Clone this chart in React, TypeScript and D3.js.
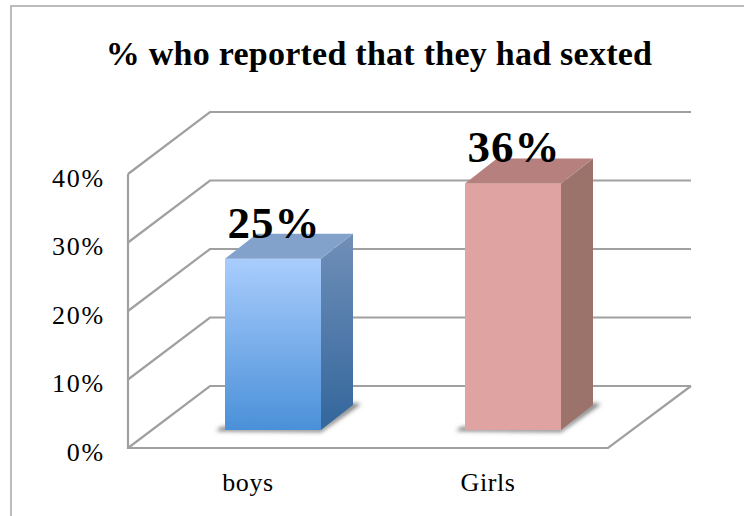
import * as React from 'react';
import * as d3 from 'd3';

const categories = ['boys', 'Girls'];
const values = [25, 36];
const valueLabels = ['25%', '36%'];
const ticks = [0, 10, 20, 30, 40];

const titleText = '% who reported that they had sexted';
const serif = '"Liberation Serif", "DejaVu Serif", serif';
const gridColor = '#a0a0a0';

// projected box of the 3D plot
const plot = { left: 128, right: 608, bottom: 448, top: 174, depthX: 82, depthY: 62, farRight: 691 };
const barDepth = { x: 32, y: 25, baseY: 430, shiftX: 25, width: 96 };

const App = () => {
    const node = React.useRef<SVGSVGElement | null>(null);

    React.useEffect(() => {
        const svg = d3.select(node.current);
        svg.selectAll('*').remove();

        const xScale = d3.scaleBand<string>().domain(categories).range([plot.left, plot.right]);
        const yScale = d3.scaleLinear().domain([0, 40]).range([plot.bottom, plot.top]);
        const barHeight = (v: number) => yScale(0) - yScale(v);

        const defs = svg.append('defs');
        const grad = (id: string, stops: string[]) => {
            const g = defs.append('linearGradient').attr('id', id)
                .attr('x1', 0).attr('y1', 0).attr('x2', 0).attr('y2', 1);
            stops.forEach((c, i) => g.append('stop')
                .attr('offset', i / (stops.length - 1)).attr('stop-color', c));
        };
        grad('boysFront', ['#a9cdfd', '#4a90d8']);
        grad('boysSide', ['#708fb8', '#33669c']);
        grad('girlsFront', ['#dfa3a2', '#dfa3a2']);
        grad('girlsSide', ['#9b736b', '#9b736b']);
        defs.append('filter').attr('id', 'soft')
            .attr('x', '-20%').attr('y', '-50%').attr('width', '140%').attr('height', '200%')
            .append('feGaussianBlur').attr('stdDeviation', 2);

        const faces = [
            { front: 'url(#boysFront)', side: 'url(#boysSide)', top: '#82a2cc' },
            { front: 'url(#girlsFront)', side: 'url(#girlsSide)', top: '#b5807d' },
        ];

        // outer frame
        svg.append('path')
            .attr('d', 'M11,516V6H744')
            .attr('fill', 'none').attr('stroke', '#a6a6a6').attr('stroke-width', 1.5);

        // gridlines on the walls
        const wall = d3.line();
        const grid = svg.append('g').attr('fill', 'none').attr('stroke', gridColor).attr('stroke-width', 2.2);
        ticks.forEach(t => {
            const y = yScale(t);
            grid.append('path').attr('d', wall([
                [plot.left, y],
                [plot.left + plot.depthX, y - plot.depthY],
                [plot.farRight, y - plot.depthY],
            ]));
        });
        grid.append('path').attr('d', wall([
            [plot.left, plot.top],
            [plot.left, plot.bottom],
            [plot.right, plot.bottom],
            [plot.farRight, plot.bottom - plot.depthY],
        ]));

        // bars
        categories.forEach((c, i) => {
            const x0 = (xScale(c) as number) + xScale.bandwidth() / 2 + barDepth.shiftX - barDepth.width / 2;
            const x1 = x0 + barDepth.width;
            const yb = barDepth.baseY;
            const yt = yb - barHeight(values[i]);
            const g = svg.append('g');

            g.append('path')
                .attr('d', wall([
                    [x0 - 9, yb + 1],
                    [x1, yb + 2],
                    [x1 + barDepth.x + 8, yb - barDepth.y - 1],
                    [x1 + barDepth.x, yb - barDepth.y - 2],
                    [x1, yb - 2],
                    [x0 - 4, yb - 3],
                ]) + 'Z')
                .attr('fill', '#7a7a7a').attr('filter', 'url(#soft)');

            g.append('rect')
                .attr('x', x0).attr('y', yt)
                .attr('width', barDepth.width).attr('height', yb - yt)
                .attr('fill', faces[i].front);
            g.append('path')
                .attr('d', wall([
                    [x1, yt],
                    [x1 + barDepth.x, yt - barDepth.y],
                    [x1 + barDepth.x, yb - barDepth.y],
                    [x1, yb],
                ]) + 'Z')
                .attr('fill', faces[i].side);
            g.append('path')
                .attr('d', wall([
                    [x0, yt],
                    [x0 + barDepth.x, yt - barDepth.y],
                    [x1 + barDepth.x, yt - barDepth.y],
                    [x1, yt],
                ]) + 'Z')
                .attr('fill', faces[i].top);

            g.append('text')
                .attr('x', x0 + barDepth.width / 2 + 1)
                .attr('y', yt - 21)
                .attr('text-anchor', 'middle')
                .attr('font-size', 45)
                .attr('letter-spacing', 1)
                .attr('font-weight', 700)
                .attr('font-family', serif)
                .attr('fill', '#000')
                .text(valueLabels[i]);
        });

        // axes, lines already drawn with the grid
        const yAxis = d3.axisLeft(yScale).tickValues(ticks)
            .tickFormat(d => `${d}%`).tickSize(0).tickPadding(23);
        const yAxisGroup = svg.append('g').attr('transform', `translate(${plot.left},4)`).call(yAxis);
        yAxisGroup.select('.domain').remove();
        yAxisGroup.selectAll('text')
            .attr('font-size', 26).attr('letter-spacing', 1.8).attr('font-family', serif).attr('fill', '#000');

        const xAxis = d3.axisBottom(xScale).tickSize(0).tickPadding(25);
        const xAxisGroup = svg.append('g').attr('transform', `translate(0,${plot.bottom})`).call(xAxis);
        xAxisGroup.select('.domain').remove();
        xAxisGroup.selectAll('text')
            .attr('font-size', 26).attr('letter-spacing', 0.6).attr('font-family', serif).attr('fill', '#000');

        svg.append('text')
            .attr('x', 379).attr('y', 65)
            .attr('text-anchor', 'middle')
            .attr('font-size', 34)
            .attr('letter-spacing', 0.25)
            .attr('font-weight', 700)
            .attr('font-family', serif)
            .attr('fill', '#000')
            .text(titleText);
    }, []);

    return <svg
        ref={node}
        width={744}
        height={516}
        style={{ position: 'absolute', left: 0, top: 0, background: '#fff' }}>
    </svg>;
};

export default App;
